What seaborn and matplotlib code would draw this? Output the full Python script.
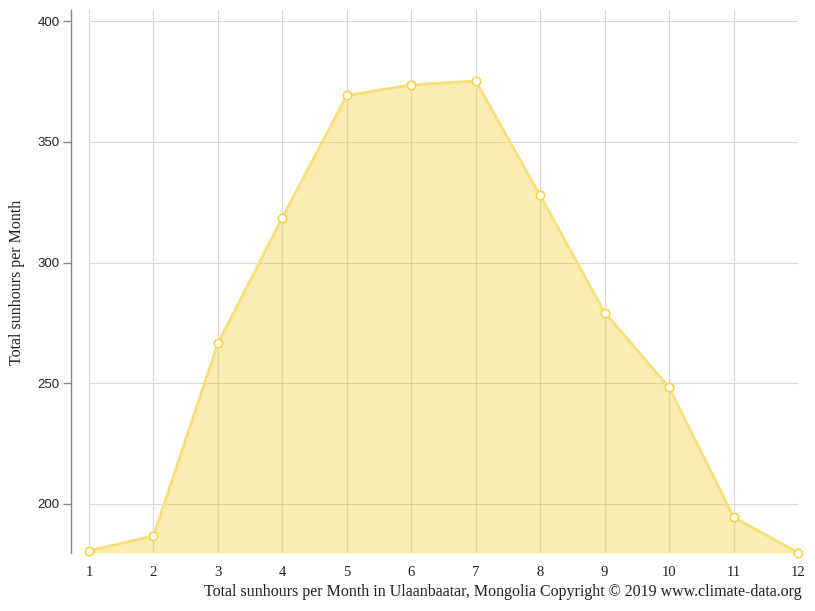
import matplotlib
matplotlib.use("Agg")
import matplotlib.pyplot as plt
import seaborn as sns
import pandas as pd

# Monthly sunshine hours, Ulaanbaatar
months = [1, 2, 3, 4, 5, 6, 7, 8, 9, 10, 11, 12]
sunhours = [180.6, 186.8, 266.5, 318.6, 369.2, 373.6, 375.2, 327.8, 279.3, 248.3, 194.6, 179.8]
y_ticks = [200, 250, 300, 350, 400]

df = pd.DataFrame({'Month': months, 'Sunhours': sunhours})

sns.set_style('white')
fig = plt.figure(figsize=(8.15, 6.11), dpi=100)
ax = fig.add_axes([89 / 815, 58 / 611, 709 / 815, 543 / 611])

ymin, ymax = 179.7, 404.6
ax.fill_between(df['Month'], df['Sunhours'], ymin, color='#f5d33f', alpha=0.4, zorder=2, linewidth=0)
sns.lineplot(data=df, x='Month', y='Sunhours', ax=ax, color='#f7df7a', linewidth=2,
             marker='o', markersize=6, markerfacecolor='white', markeredgecolor='#f5d446',
             markeredgewidth=1.2, zorder=3, clip_on=False)

ax.set_xlim(1, 12)
ax.set_ylim(ymin, ymax)
ax.set_xticks(months)
ax.set_yticks(y_ticks)
ax.grid(True, color='#d9d9d9', linewidth=0.8, zorder=0)
ax.set_axisbelow(True)

for s in ['top', 'right', 'bottom']:
    ax.spines[s].set_visible(False)
ax.spines['left'].set_position(('outward', 13))
ax.spines['left'].set_color('#888888')
ax.spines['left'].set_linewidth(1)

ax.tick_params(axis='y', which='both', left=True, length=6, width=1, color='#888888',
               labelsize=9.5, pad=2, labelcolor='#222222')
ax.tick_params(axis='x', length=0, pad=9, labelsize=10.5, labelcolor='#222222')
for lab in ax.get_xticklabels():
    lab.set_family('Liberation Serif')
for lab in ax.get_yticklabels():
    lab.set_family('Liberation Sans')

ax.set_xlabel('')
ax.set_ylabel('')
fig.text(17 / 815, 1 - 282 / 611, 'Total sunhours per Month', rotation=90,
         ha='center', va='center', fontsize=11.5, family='Liberation Serif', color='#222222')
fig.text(802 / 815, 1 - 592 / 611,
         'Total sunhours per Month in Ulaanbaatar, Mongolia Copyright © 2019 www.climate-data.org',
         ha='right', va='center', fontsize=11.5, family='Liberation Serif', color='#222222')

fig.savefig('out.png', dpi=100)
